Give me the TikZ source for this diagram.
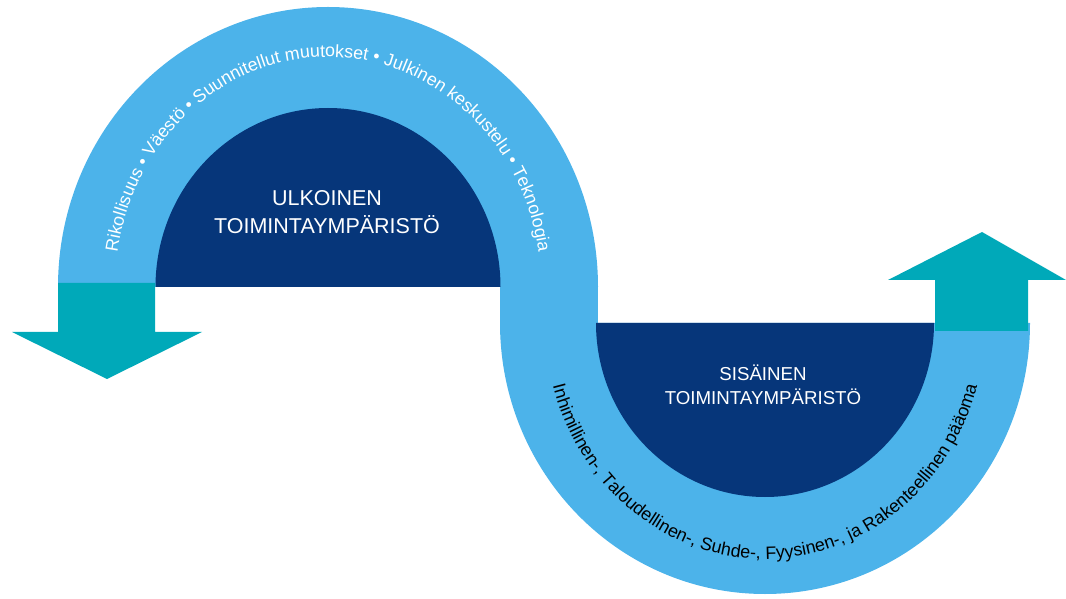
\documentclass[tikz,border=0pt]{standalone}
\usepackage{fontspec}
\setmainfont{Liberation Sans}
\usetikzlibrary{decorations.text}
\definecolor{lightband}{RGB}{76,179,234}
\definecolor{navy}{RGB}{6,54,122}
\definecolor{tealarrow}{RGB}{0,169,185}
\newcommand\topfont{\fontsize{17.8}{20}\selectfont}
\newcommand\botfont{\fontsize{17.9}{20}\selectfont}
\begin{document}
\begin{tikzpicture}[x=1pt,y=1pt,
  band/.style={fill=lightband},
  core/.style={fill=navy},
  arrowfill/.style={fill=tealarrow},
  title/.style={text=white, align=center, font=\fontsize{21.5}{28}\selectfont},
  subtitle/.style={text=white, align=center, font=\fontsize{18.7}{24}\selectfont}]
\useasboundingbox (0,0) rectangle (1066,598);
% light band (S shape)
\fill[band] (58,311) arc[start angle=180,end angle=0,x radius=270pt,y radius=280pt] -- cycle;
\fill[band] (500,275) rectangle (598,312);
\fill[band] (500,275) arc[start angle=180,end angle=360,x radius=265pt,y radius=271pt] -- cycle;
% dark cores
\fill[core] (155.5,311) arc[start angle=180,end angle=0,x radius=172.5pt,y radius=179pt] -- cycle;
\fill[core] (596,275) arc[start angle=180,end angle=360,x radius=169pt,y radius=174pt] -- cycle;
% left arrow (down)
\fill[arrowfill] (58,315) -- (155,315) -- (155,266) -- (202,266) -- (107,219) -- (12,266) -- (58,266) -- cycle;
% right arrow (up)
\fill[arrowfill] (935,267) -- (1028,267) -- (1028,318) -- (1066,318) -- (982,366) -- (888,318) -- (935,318) -- cycle;
% arc texts
\path[decorate, decoration={text along path, text align=center, text color=white,
  text={|\topfont|Rikollisuus • Väestö • Suunnitellut muutokset • Julkinen keskustelu • Teknologia}}]
  (115,311) arc[start angle=180,end angle=0,x radius=213pt,y radius=230pt];
\path[decorate, decoration={text along path, text align=center, text color=black,
  text={|\botfont|Inhimillinen-, Taloudellinen-, Suhde-, Fyysinen-, ja Rakenteellinen pääoma}}]
  (545,275) arc[start angle=180,end angle=360,x radius=220pt,y radius=236pt];
% titles
\node[title] (ulk) at (327,386) {ULKOINEN\\TOIMINTAYMPÄRISTÖ};
\node[subtitle] (sis) at (763,213) {SISÄINEN\\TOIMINTAYMPÄRISTÖ};
\end{tikzpicture}
\end{document}
